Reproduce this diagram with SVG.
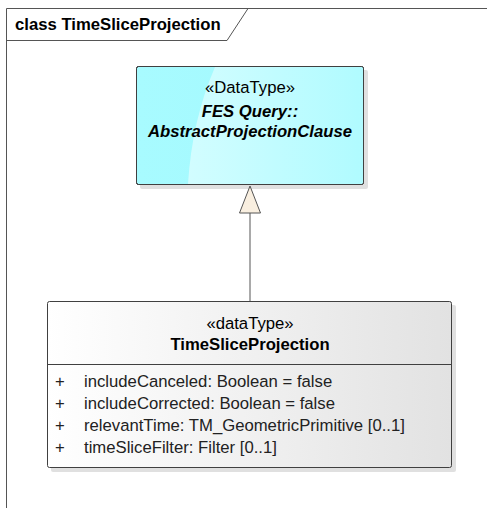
<svg xmlns="http://www.w3.org/2000/svg" width="487" height="508" viewBox="0 0 487 508">
<style>
  text { font-family: "Liberation Sans", Arial, sans-serif; font-size: 16.7px; fill: #000; }
  .b { font-weight: bold; }
  .bi { font-weight: bold; font-style: italic; }
  .frame { fill: none; stroke: #555; stroke-width: 1; }
  .box { stroke: #404040; stroke-width: 1; }
  .shadow { fill: #000; opacity: 0.12; }
  .conn { stroke: #555; stroke-width: 1; fill: none; }
  .head { fill: #f9efe0; stroke: #555; stroke-width: 1; }
  .attr { fill: #222; }
</style>
<defs>
  <linearGradient id="cyan" x1="0" y1="0" x2="1" y2="0">
    <stop offset="0" stop-color="#a8fbff"/>
    <stop offset="1" stop-color="#a0f8fd"/>
  </linearGradient>
  <linearGradient id="gray" x1="0" y1="0" x2="1" y2="0">
    <stop offset="0" stop-color="#ffffff"/>
    <stop offset="1" stop-color="#e2e2e2"/>
  </linearGradient>
  <linearGradient id="cyanHi" x1="0" y1="0" x2="1" y2="0">
    <stop offset="0" stop-color="#d2fdff"/>
    <stop offset="1" stop-color="#b0fbff"/>
  </linearGradient>
</defs>
<g id="frame">
  <path class="frame" d="M6.5,508 V8.5 H487"/>
  <path class="frame" d="M6.5,40.5 H227 L248,8.5"/>
  <text class="b" x="15" y="30">class TimeSliceProjection</text>
</g>
<g id="AbstractProjectionClause">
  <rect class="shadow" x="140" y="70" width="228" height="119" rx="2"/>
  <rect class="box" x="136.5" y="66.5" width="227" height="118" rx="2" fill="url(#cyan)"/>
  <path d="M215,67 Q192,120 188,184 L363,184 V67 Z" fill="url(#cyanHi)"/>
  <rect x="136.5" y="66.5" width="227" height="118" rx="2" fill="none" stroke="#404040"/>
  <text x="250" y="93" text-anchor="middle">«DataType»</text>
  <text class="bi" x="250" y="117" text-anchor="middle">FES Query::</text>
  <text class="bi" x="250" y="137" text-anchor="middle">AbstractProjectionClause</text>
</g>
<g id="TimeSliceProjection">
  <rect class="shadow" x="51" y="305" width="405" height="167" rx="2"/>
  <rect class="box" x="47.5" y="301.5" width="404" height="166" rx="2" fill="url(#gray)"/>
  <line x1="47.5" y1="364.5" x2="451.5" y2="364.5" stroke="#404040"/>
  <text x="250" y="329" text-anchor="middle">«dataType»</text>
  <text class="b" x="250" y="350" text-anchor="middle">TimeSliceProjection</text>
  <text class="attr" x="55" y="387">+</text>
  <text class="attr" x="84" y="387">includeCanceled: Boolean = false</text>
  <text class="attr" x="55" y="409">+</text>
  <text class="attr" x="84" y="409">includeCorrected: Boolean = false</text>
  <text class="attr" x="55" y="431">+</text>
  <text class="attr" x="84" y="431">relevantTime: TM_GeometricPrimitive [0..1]</text>
  <text class="attr" x="55" y="453">+</text>
  <text class="attr" x="84" y="453">timeSliceFilter: Filter [0..1]</text>
</g>
<g id="connectors">
  <line class="conn" x1="250" y1="213" x2="250" y2="301"/>
  <path class="head" d="M250,186 L260.5,213 L239.5,213 Z"/>
</g>
</svg>
